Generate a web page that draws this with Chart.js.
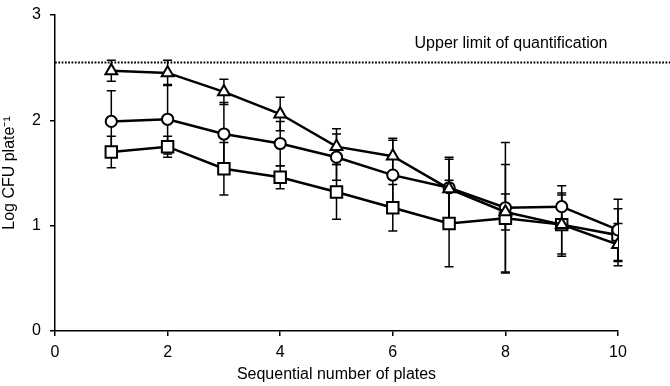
<!DOCTYPE html>
<html>
<head>
<meta charset="utf-8">
<script src="https://cdn.jsdelivr.net/npm/chart.js@4.4.1/dist/chart.umd.min.js"></script>
<style>
    html, body { margin: 0; padding: 0; background: #fff; }
    #wrap { width: 670px; height: 386px; position: relative; }
</style>
</head>
<body>
<div id="wrap"><canvas id="cfuChart"></canvas></div>
<script>
// Data
const plates = [1, 2, 3, 4, 5, 6, 7, 8, 9, 10];

const triangleMean = [2.47, 2.45, 2.27, 2.06, 1.75, 1.66, 1.35, 1.13, 1.01, 0.82];
const triangleErr  = [0.10, 0.12, 0.12, 0.16, 0.17, 0.17, 0.28, 0.17, 0.30, 0.20];

const circleMean = [1.99, 2.01, 1.87, 1.78, 1.65, 1.48, 1.36, 1.17, 1.18, 0.96];
const circleErr  = [0.29, 0.33, 0.30, 0.21, 0.22, 0.33, 0.29, 0.62, 0.20, 0.29];

const squareMean = [1.70, 1.75, 1.54, 1.46, 1.32, 1.17, 1.02, 1.07, 1.01, 0.91];
const squareErr  = [0.15, 0.10, 0.25, 0.11, 0.26, 0.22, 0.41, 0.51, 0.28, 0.25];

const upperLimit = 2.55;
const upperLimitLabel = "Upper limit of quantification";

const xTicks = [0, 2, 4, 6, 8, 10];
const yTicks = [0, 1, 2, 3];

const FONT = "'Liberation Sans', Arial, Helvetica, sans-serif";

const seriesList = [
    { mean: triangleMean, err: triangleErr, style: "triangle", radius: 6.8 },
    { mean: circleMean, err: circleErr, style: "circle", radius: 5.6 },
    { mean: squareMean, err: squareErr, style: "rect", radius: 8.1 }
];

// error bars go under the markers
const errorBarPlugin = {
    id: "errorBars",
    beforeDatasetsDraw(chart) {
        const { ctx, scales } = chart;
        ctx.save();
        ctx.strokeStyle = "#000";
        ctx.lineWidth = 1.5;
        seriesList.forEach(s => {
            s.mean.forEach((m, i) => {
                const px = scales.x.getPixelForValue(plates[i]);
                const top = scales.y.getPixelForValue(m + s.err[i]);
                const bot = scales.y.getPixelForValue(m - s.err[i]);
                ctx.beginPath();
                ctx.moveTo(px, top);
                ctx.lineTo(px, bot);
                ctx.moveTo(px - 4.5, top);
                ctx.lineTo(px + 4.5, top);
                ctx.moveTo(px - 4.5, bot);
                ctx.lineTo(px + 4.5, bot);
                ctx.stroke();
            });
        });
        ctx.restore();
    }
};

// dotted upper limit line and its label
const limitPlugin = {
    id: "upperLimit",
    afterDraw(chart) {
        const { ctx, scales, chartArea } = chart;
        const py = scales.y.getPixelForValue(upperLimit);
        ctx.save();
        ctx.strokeStyle = "#000";
        ctx.lineWidth = 2;
        ctx.setLineDash([1.8, 1.5]);
        ctx.beginPath();
        ctx.moveTo(chartArea.left, py);
        ctx.lineTo(chart.width, py);
        ctx.stroke();
        ctx.setLineDash([]);
        ctx.fillStyle = "#000";
        ctx.font = "16px " + FONT;
        ctx.textAlign = "center";
        ctx.textBaseline = "middle";
        ctx.fillText(upperLimitLabel, scales.x.getPixelForValue(8.1), py - 19);
        ctx.restore();
    }
};

const datasets = seriesList.map(s => ({
    data: plates.map((p, i) => ({ x: p, y: s.mean[i] })),
    borderColor: "#000",
    borderWidth: 2.5,
    pointStyle: s.style,
    pointRadius: s.radius,
    pointBorderWidth: 2,
    pointBorderColor: "#000",
    pointBackgroundColor: "#fff",
    fill: false,
    tension: 0
}));

new Chart(document.getElementById("cfuChart"), {
    type: "line",
    data: { datasets: datasets },
    options: {
        responsive: true,
        maintainAspectRatio: false,
        animation: false,
        layout: { padding: { top: 15, right: 52, left: 0, bottom: 0 } },
        plugins: {
            legend: { display: false },
            tooltip: { enabled: false }
        },
        scales: {
            x: {
                type: "linear",
                min: 0,
                max: 10,
                afterBuildTicks: (scale) => { scale.ticks = xTicks.map(v => ({ value: v })); },
                afterFit: (scale) => { scale.height = 55; scale.paddingRight = 0; },
                border: { color: "#000", width: 1.5 },
                grid: { drawOnChartArea: false, color: "#000", tickLength: 5, lineWidth: 1.5 },
                ticks: { color: "#000", font: { family: FONT, size: 16 }, padding: 7, maxRotation: 0 },
                title: {
                    display: true,
                    text: "Sequential number of plates",
                    color: "#000",
                    font: { family: FONT, size: 16 },
                    padding: { top: 0, bottom: 2 }
                }
            },
            y: {
                min: 0,
                max: 3,
                afterBuildTicks: (scale) => { scale.ticks = yTicks.map(v => ({ value: v })); },
                afterFit: (scale) => { scale.width = 55; scale.paddingTop = 0; scale.paddingBottom = 0; },
                border: { color: "#000", width: 1.5 },
                grid: { drawOnChartArea: false, color: "#000", tickLength: 5, lineWidth: 1.5 },
                ticks: { color: "#000", font: { family: FONT, size: 16 }, padding: 9 },
                title: {
                    display: true,
                    text: "Log CFU plate\u207B\u00B9",
                    color: "#000",
                    font: { family: FONT, size: 16 },
                    padding: { top: 0, bottom: 0 }
                }
            }
        }
    },
    plugins: [errorBarPlugin, limitPlugin]
});
</script>
</body>
</html>
